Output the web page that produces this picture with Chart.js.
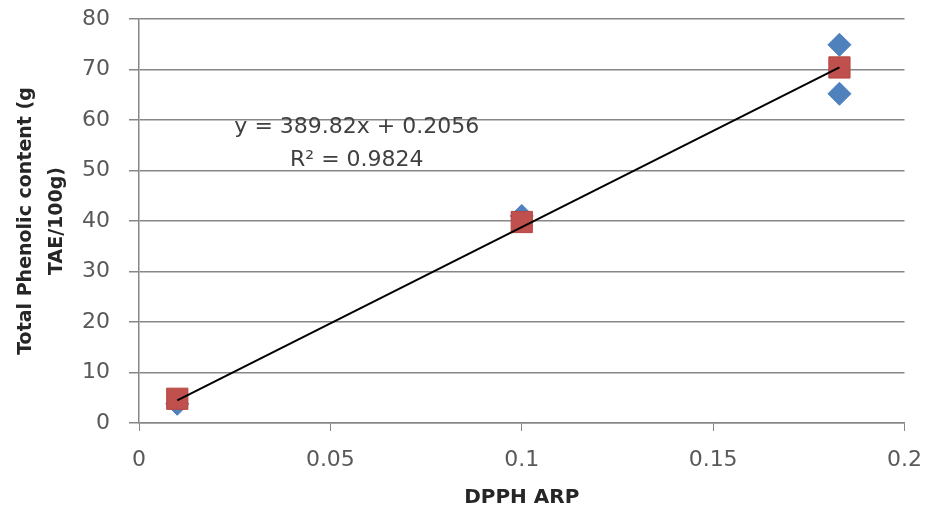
<!DOCTYPE html>
<html>
<head>
<meta charset="utf-8">
<script src="https://cdn.jsdelivr.net/npm/chart.js@4"></script>
<style>
  html, body { margin: 0; padding: 0; background: #fff; }
  #wrap { width: 938px; height: 512px; }
</style>
</head>
<body>
<div id="wrap"><canvas id="phenolic"></canvas></div>
<script>
// Observed replicates (blue diamonds)
const obsX = [0.01, 0.1, 0.183, 0.183]
const obsY = [3.8, 41, 74.9, 65.2]
// Means (red squares)
const meanX = [0.01, 0.1, 0.183]
const meanY = [4.8, 39.8, 70.4]
// Linear trendline endpoints as drawn
const trendX = [0.01, 0.183]
const trendY = [4.5, 70.4]
const equationLines = ['y = 389.82x + 0.2056', 'R\u00b2 = 0.9824']

const xTicks = [0, 0.05, 0.1, 0.15, 0.2]
const yTitle = ['Total Phenolic content (g', 'TAE/100g)']
const xTitle = 'DPPH ARP'

const toPoints = (xs, ys) => xs.map((x, i) => ({ x: x, y: ys[i] }))

const gridGrey = '#878787'
const textGrey = '#595959'

// writes the trendline equation onto the plot, like the Excel label
const equationLabel = {
  id: 'equationLabel',
  afterDatasetsDraw(chart, args, opts) {
    const { ctx, scales } = chart
    const cx = scales.x.getPixelForValue(opts.x)
    ctx.save()
    ctx.font = '22px "DejaVu Sans"'
    ctx.fillStyle = '#404040'
    ctx.textAlign = 'center'
    ctx.textBaseline = 'middle'
    opts.lines.forEach((line, i) => {
      ctx.fillText(line, cx, scales.y.getPixelForValue(opts.y[i]))
    })
    ctx.restore()
  }
}

new Chart(document.getElementById('phenolic').getContext('2d'), {
  type: 'scatter',
  data: {
    datasets: [
      {
        type: 'line',
        label: 'Linear trend',
        data: toPoints(trendX, trendY),
        borderColor: '#000000',
        borderWidth: 2,
        pointRadius: 0,
        fill: false,
        order: 0
      },
      {
        label: 'Mean',
        data: toPoints(meanX, meanY),
        pointStyle: 'rect',
        pointRadius: 15,
        pointHoverRadius: 15,
        backgroundColor: '#C0504D',
        borderColor: '#B5453F',
        borderWidth: 1,
        order: 1
      },
      {
        label: 'Replicates',
        data: toPoints(obsX, obsY),
        pointStyle: 'rectRot',
        pointRadius: 11.5,
        pointHoverRadius: 11.5,
        backgroundColor: '#4F81BD',
        borderColor: '#4A7EBB',
        borderWidth: 1,
        order: 2
      }
    ]
  },
  options: {
    responsive: true,
    maintainAspectRatio: false,
    animation: false,
    layout: { padding: { top: 19, right: 33, left: 0, bottom: 0 } },
    plugins: {
      legend: { display: false },
      tooltip: { enabled: false },
      equationLabel: { lines: equationLines, x: 0.0569, y: [58.6, 52.1] }
    },
    scales: {
      x: {
        type: 'linear',
        min: 0,
        max: 0.2,
        afterBuildTicks: axis => { axis.ticks = xTicks.map(v => ({ value: v })) },
        afterFit: axis => { axis.height = 89 },
        grid: { drawOnChartArea: false, drawTicks: true, tickLength: 8, color: gridGrey },
        border: { color: gridGrey, width: 1.5 },
        ticks: {
          color: textGrey,
          font: { family: 'DejaVu Sans', size: 22 },
          padding: 16,
          maxRotation: 0,
          callback: v => String(v)
        },
        title: {
          display: true,
          text: xTitle,
          color: '#262626',
          font: { family: 'DejaVu Sans', size: 20, weight: 'bold' },
          padding: { top: 0, bottom: 2 }
        }
      },
      y: {
        min: 0,
        max: 80,
        ticks: {
          stepSize: 10,
          color: textGrey,
          font: { family: 'DejaVu Sans', size: 22 },
          padding: 19
        },
        afterFit: axis => {
          axis.width = 139
          // let the layout padding alone decide where the plot starts
          axis.paddingTop = 0
          axis.paddingBottom = 0
        },
        grid: { color: gridGrey, lineWidth: 1.5, tickLength: 10 },
        border: { color: gridGrey, width: 1.5 },
        title: {
          display: true,
          text: yTitle,
          color: '#262626',
          font: { family: 'DejaVu Sans', size: 19, weight: 'bold', lineHeight: 1.6 },
          padding: { top: 11, bottom: 0 }
        }
      }
    }
  },
  plugins: [equationLabel]
})
</script>
</body>
</html>
